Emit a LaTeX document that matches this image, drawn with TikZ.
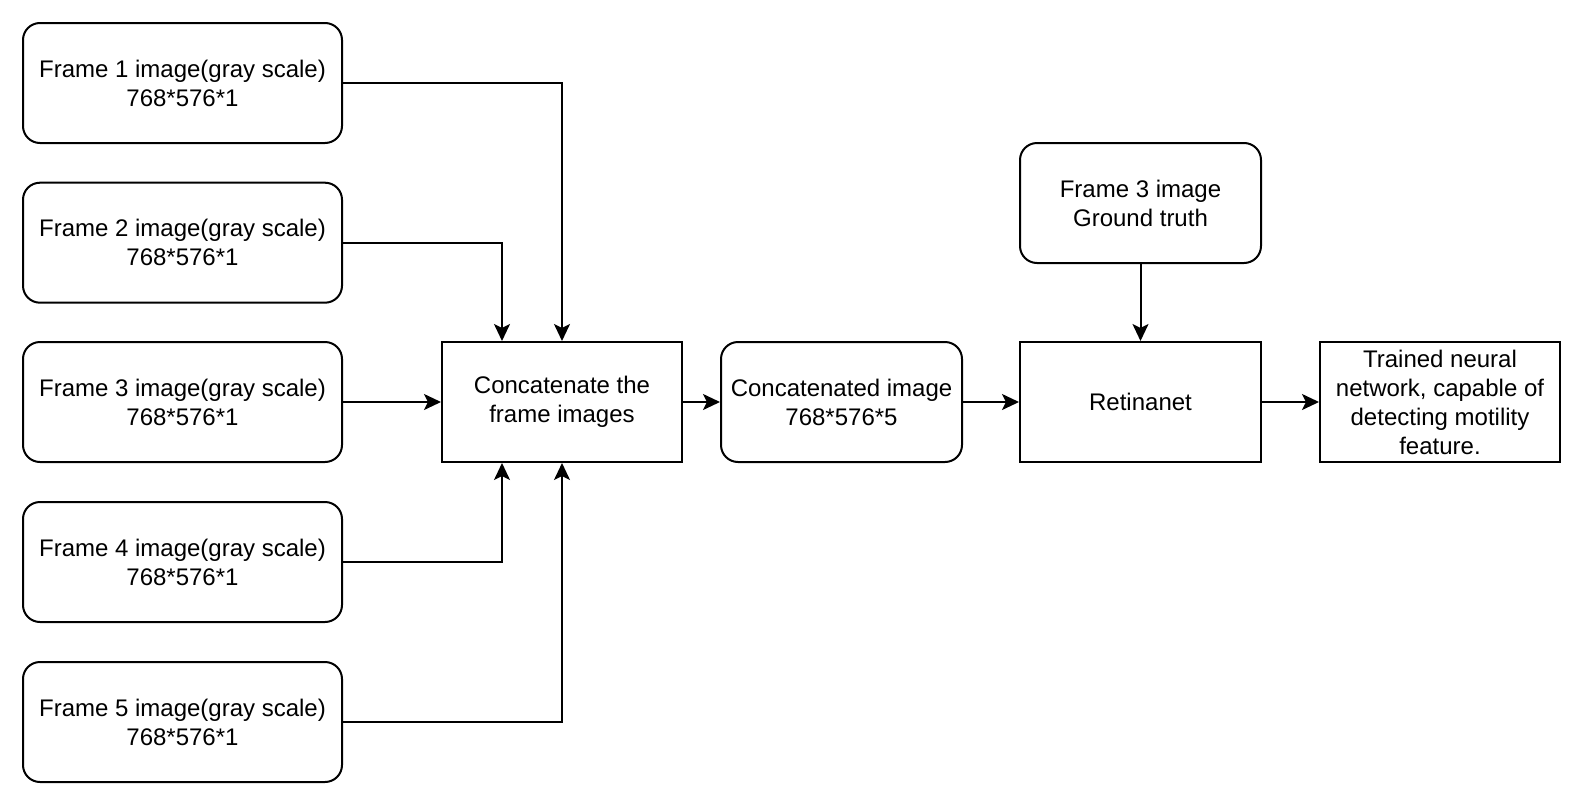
\documentclass[tikz,border=0pt]{standalone}
\usepackage{fontspec}
\setmainfont{Liberation Sans}
\usetikzlibrary{arrows.meta}
\begin{document}
\begin{tikzpicture}[x=1pt,y=-1pt,
  every node/.style={font=\fontsize{24}{29}\selectfont, align=center, inner sep=0pt},
  rbox/.style={draw, line width=2pt, rounded corners=17pt},
  sbox/.style={draw, line width=2pt},
  conn/.style={line width=2pt, -{Stealth[length=17pt,width=16pt,inset=4pt]}}]
\useasboundingbox (0,0) rectangle (1584,806);
\node[rbox, minimum width=319, minimum height=120] (f1) at (182.5,83) {Frame 1 image(gray scale)\\768*576*1};
\node[rbox, minimum width=319, minimum height=120] (f2) at (182.5,242.7) {Frame 2 image(gray scale)\\768*576*1};
\node[rbox, minimum width=319, minimum height=120] (f3) at (182.5,402) {Frame 3 image(gray scale)\\768*576*1};
\node[rbox, minimum width=319, minimum height=120] (f4) at (182.5,562) {Frame 4 image(gray scale)\\768*576*1};
\node[rbox, minimum width=319, minimum height=120] (f5) at (182.5,722) {Frame 5 image(gray scale)\\768*576*1};
\node[sbox, minimum width=240, minimum height=120] (cat) at (562,402) {Concatenate the\\frame images};
\node[rbox, minimum width=241, minimum height=120] (cimg) at (841.5,402) {Concatenated image\\768*576*5};
\node[sbox, minimum width=241, minimum height=120] (ret) at (1140.5,402) {Retinanet};
\node[rbox, minimum width=241, minimum height=120] (gt) at (1140.5,203) {Frame 3 image\\Ground truth};
\node[sbox, minimum width=240, minimum height=120] (tr) at (1440,402) {Trained neural\\network, capable of\\detecting motility\\feature.};
\draw[conn] (f1.east) -| (cat.north);
\draw[conn] (f2.east) -| ([xshift=-60pt]cat.north);
\draw[conn] (f3.east) -- (cat.west);
\draw[conn] (f4.east) -| ([xshift=-60pt]cat.south);
\draw[conn] (f5.east) -| (cat.south);
\draw[conn] (cat.east) -- (cimg.west);
\draw[conn] (cimg.east) -- (ret.west);
\draw[conn] (gt.south) -- (ret.north);
\draw[conn] (ret.east) -- (tr.west);
\end{tikzpicture}
\end{document}
